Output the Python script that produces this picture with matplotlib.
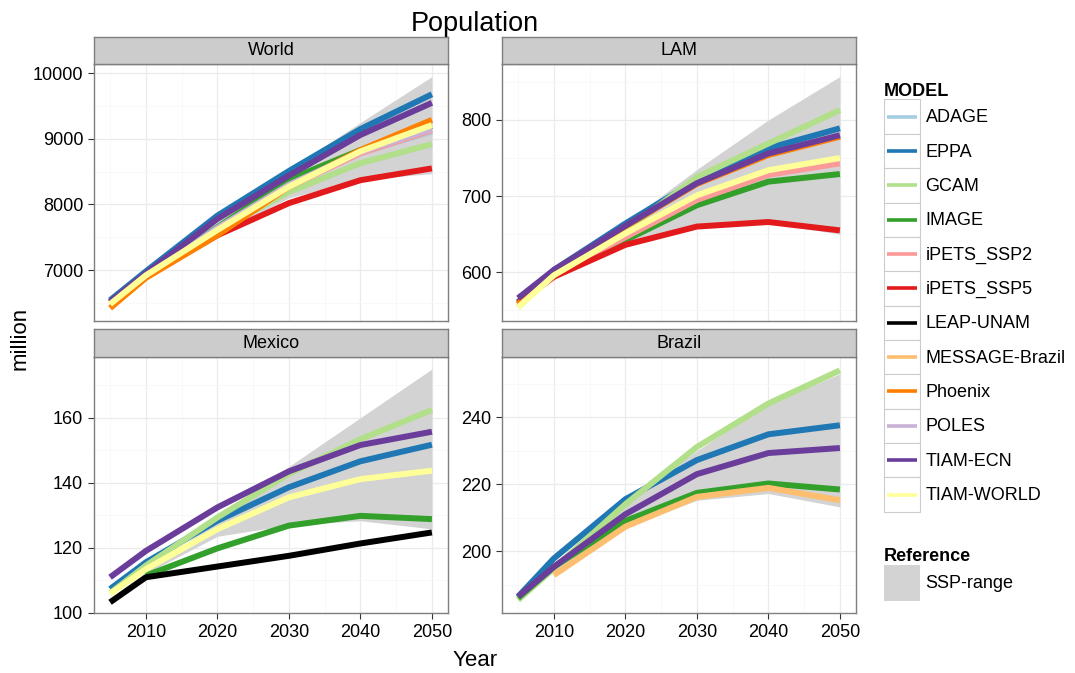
import numpy as np
import matplotlib
matplotlib.use("Agg")
import matplotlib.pyplot as plt
import matplotlib.patches as mpatches
from matplotlib.lines import Line2D
from matplotlib.legend_handler import HandlerBase

plt.rcParams['font.family'] = ['Liberation Sans', 'DejaVu Sans']

nan = np.nan
years = [2005, 2010, 2020, 2030, 2040, 2050]

models = ['ADAGE', 'EPPA', 'GCAM', 'IMAGE', 'iPETS_SSP2', 'iPETS_SSP5', 'LEAP-UNAM',
          'MESSAGE-Brazil', 'Phoenix', 'POLES', 'TIAM-ECN', 'TIAM-WORLD']
colors = ['#A6CEE3', '#1F78B4', '#B2DF8A', '#33A02C', '#FB9A99', '#E31A1C', '#000000',
          '#FDBF6F', '#FF7F00', '#CAB2D6', '#6A3D9A', '#FFFF99']

# population in million
world = {
    'ADAGE':      [6500, 6910, 7640, 8310, 8790, 9110],
    'EPPA':       [6540, 6980, 7830, 8510, 9150, 9680],
    'GCAM':       [6490, 6900, 7600, 8190, 8630, 8920],
    'IMAGE':      [6510, 6920, 7650, 8380, 8830, 9200],
    'iPETS_SSP2': [6500, 6910, 7620, 8270, 8780, 9130],
    'iPETS_SSP5': [6500, 6900, 7530, 8020, 8370, 8550],
    'Phoenix':    [6420, 6880, 7530, 8270, 8830, 9290],
    'POLES':      [6500, 6920, 7640, 8300, 8800, 9150],
    'TIAM-ECN':   [6520, 6950, 7780, 8440, 9060, 9550],
    'TIAM-WORLD': [6480, 6920, 7610, 8270, 8810, 9210],
}
world_ssp_lo = [nan, 6880, 7540, 8100, 8380, 8470]
world_ssp_hi = [nan, 6950, 7820, 8530, 9250, 9950]

lam = {
    'EPPA':       [561, 603, 664, 721, 763, 789],
    'GCAM':       [554, 598, 655, 725, 769, 813],
    'IMAGE':      [558, 597, 642, 688, 719, 729],
    'iPETS_SSP2': [557, 597, 646, 695, 728, 743],
    'iPETS_SSP5': [560, 594, 636, 660, 666, 655],
    'Phoenix':    [558, 600, 660, 716, 754, 778],
    'TIAM-ECN':   [566, 603, 661, 717, 756, 780],
    'TIAM-WORLD': [554, 596, 651, 701, 734, 750],
}
lam_ssp_lo = [nan, 595, 640, 660, 665, 650]
lam_ssp_hi = [nan, 600, 665, 735, 800, 857]

mexico = {
    'EPPA':       [107.3, 115.5, 128.3, 138.6, 146.6, 151.7],
    'GCAM':       [106.0, 114.5, 129.3, 142.7, 153.4, 162.4],
    'IMAGE':      [nan, 111.4, 119.8, 126.8, 129.8, 128.8],
    'LEAP-UNAM':  [103.2, 110.9, 114.2, 117.5, 121.3, 124.7],
    'TIAM-ECN':   [110.9, 119.0, 132.4, 143.5, 151.6, 155.7],
    'TIAM-WORLD': [105.8, 113.4, 125.7, 135.5, 141.1, 143.7],
}
mexico_ssp_lo = [nan, 112, 123.5, 127, 128.3, 125.8]
mexico_ssp_hi = [nan, 113, 128, 145, 160, 175]

brazil = {
    'EPPA':           [186.4, 197.8, 215.5, 227.2, 234.9, 237.6],
    'GCAM':           [185.4, 194.8, 214.0, 231.1, 244.1, 254.0],
    'IMAGE':          [186.0, 195.3, 209.0, 217.4, 220.2, 218.4],
    'MESSAGE-Brazil': [nan, 192.8, 207.3, 216.2, 218.9, 215.2],
    'TIAM-ECN':       [186.4, 195.3, 211.0, 223.0, 229.3, 230.8],
}
brazil_ssp_lo = [nan, 194, 207, 215.2, 217.2, 213.2]
brazil_ssp_hi = [nan, 195, 215, 230, 244, 253]

panels = [
    ('World', world, world_ssp_lo, world_ssp_hi, (6223, 10142), [7000, 8000, 9000, 10000]),
    ('LAM', lam, lam_ssp_lo, lam_ssp_hi, (536, 873.5), [600, 700, 800]),
    ('Mexico', mexico, mexico_ssp_lo, mexico_ssp_hi, (99.9, 178.7), [100, 120, 140, 160]),
    ('Brazil', brazil, brazil_ssp_lo, brazil_ssp_hi, (181.5, 258), [200, 220, 240]),
]


class KeyLine(HandlerBase):
    """Legend line centred in the key box, a bit shorter than the box."""
    def create_artists(self, legend, orig_handle, xdescent, ydescent, width, height,
                       fontsize, trans):
        y = height / 2 - ydescent
        pad = 0.09 * width
        line = Line2D([-xdescent + pad, -xdescent + width - pad], [y, y],
                      color=orig_handle.get_color(), lw=orig_handle.get_linewidth(),
                      solid_capstyle='butt')
        line.set_transform(trans)
        return [line]


W, H = 1075, 673
fig = plt.figure(figsize=(W / 100, H / 100), dpi=100)

# pixel boxes: (left, right) and (strip top, panel top, panel bottom)
cols = [(94, 448), (502, 856)]
rows = [(37, 64, 321), (329, 357, 613)]
ssp_color = '#D3D3D3'
border = '#7F7F7F'

for k, (name, data, lo, hi, ylim, yticks) in enumerate(panels):
    l, r = cols[k % 2]
    st, pt, pb = rows[k // 2]
    ax = fig.add_axes([l / W, 1 - pb / H, (r - l) / W, (pb - pt) / H])
    sax = fig.add_axes([l / W, 1 - pt / H, (r - l) / W, (pt - st) / H])

    ax.fill_between(years, lo, hi, color=ssp_color, lw=0, zorder=1)
    for m, c in zip(models, colors):
        if m in data:
            ax.plot(years, data[m], color=c, lw=4.3, solid_capstyle='butt',
                    solid_joinstyle='round', zorder=2)

    ax.set_xlim(2002.75, 2052.25)
    ax.set_xticks([2010, 2020, 2030, 2040, 2050])
    ax.set_xticks([2005, 2015, 2025, 2035, 2045], minor=True)
    step = yticks[1] - yticks[0]
    ax.set_yticks(yticks)
    ax.set_yticks(np.arange(yticks[0] - step / 2, ylim[1], step), minor=True)
    ax.set_ylim(*ylim)
    ax.grid(which='major', color='#EBEBEB', lw=0.9)
    ax.grid(which='minor', color='#F7F7F7', lw=0.6)
    ax.set_axisbelow(True)
    ax.tick_params(which='major', length=4.3, width=0.8, color='#333333',
                   labelsize=13, pad=3.5)
    ax.tick_params(which='minor', length=0)
    if k < 2:
        ax.tick_params(axis='x', which='both', length=0, labelbottom=False)
    for s in ax.spines.values():
        s.set_color(border)
        s.set_linewidth(1.0)

    sax.set_facecolor('#CCCCCC')
    sax.set_xticks([])
    sax.set_yticks([])
    for s in sax.spines.values():
        s.set_color(border)
        s.set_linewidth(1.0)
    sax.text(0.5, 0.5, name, ha='center', va='center', fontsize=13,
             transform=sax.transAxes)

fig.text(475 / W, 1 - 31 / H, 'Population', ha='center', va='baseline', fontsize=19.5)
fig.text(475 / W, 1 - 666 / H, 'Year', ha='center', va='baseline', fontsize=16)
fig.text(20 / W, 1 - 338 / H, 'million', ha='center', va='center', rotation=90, fontsize=16)

key_box = dict(facecolor='white', edgecolor='#CCCCCC', lw=0.8)
handles = [(mpatches.Rectangle((0, 0), 1, 1, **key_box), Line2D([], [], color=c, lw=2.6))
           for c in colors]
leg1 = fig.legend(handles, models, loc='upper left', bbox_to_anchor=(884 / W, 1 - 82.5 / H),
                  frameon=False, fontsize=13, borderpad=0, borderaxespad=0, labelspacing=0,
                  handlelength=2.0, handleheight=2.55, handletextpad=0.3,
                  handler_map={Line2D: KeyLine()},
                  title='MODEL', title_fontproperties={'weight': 'bold', 'size': 13},
                  alignment='left')
leg2 = fig.legend([mpatches.Rectangle((0, 0), 1, 1, facecolor=ssp_color, edgecolor='none')],
                  ['SSP-range'], loc='upper left', bbox_to_anchor=(884 / W, 1 - 548 / H),
                  frameon=False, fontsize=13, borderpad=0, borderaxespad=0, labelspacing=0,
                  handlelength=2.0, handleheight=2.65, handletextpad=0.3,
                  title='Reference', title_fontproperties={'weight': 'bold', 'size': 13},
                  alignment='left')

fig.savefig('out.png', dpi=100)
